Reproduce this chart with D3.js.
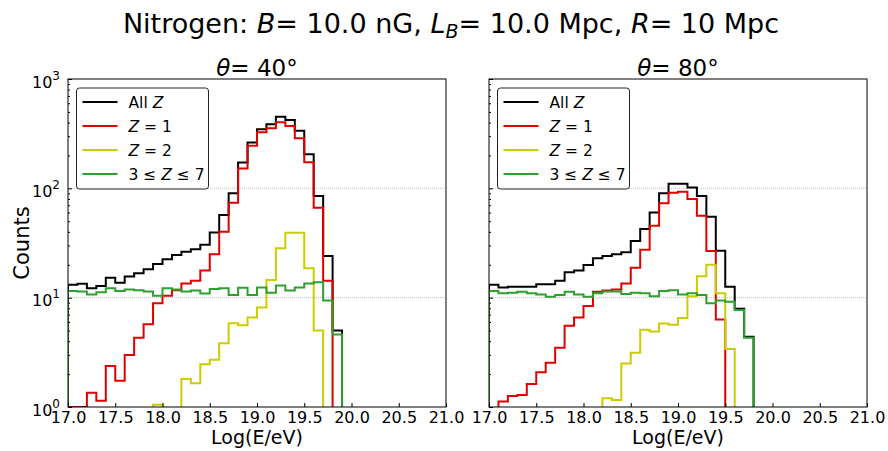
<!DOCTYPE html>
<html>
<head>
<meta charset="utf-8">
<script src="https://d3js.org/d3.v7.min.js"></script>
<style>
  body { margin: 0; background: #fff; }
  svg { font-family: "DejaVu Sans", sans-serif; }
</style>
</head>
<body>
<svg id="chart" width="888" height="451"></svg>
<script>
// histogram bins: 0.1 wide, 17.0 .. 21.0
var binLo = 17.0, binW = 0.1, nBins = 40;
var xTicks = [17.0, 17.5, 18.0, 18.5, 19.0, 19.5, 20.0, 20.5, 21.0];
var yTicks = [1, 10, 100, 1000];
var seriesNames = ["All Z", "Z = 1", "Z = 2", "3 ≤ Z ≤ 7"];
var seriesColors = ["#000000", "#e00000", "#cccc00", "#2f9f2f"];

// theta = 40 deg
var allZ40 = [13.1, 13.4, 12.2, 12.8, 15.2, 13.7, 15.6, 16.7, 18.2, 20.3,
              22.4, 24.6, 26.3, 27.7, 30.5, 39.5, 57, 90, 172, 262,
              347, 385, 452, 422, 337, 205, 85, 24.1, 5.0, 0,
              0, 0, 0, 0, 0, 0, 0, 0, 0, 0];
var z1_40 = [1, 1, 1.35, 1.14, 2.37, 1.74, 2.99, 4.3, 5.7, 8.9,
             10.4, 11.7, 13.5, 14.3, 17.7, 25, 40, 74, 152, 245,
             325, 354, 402, 372, 287, 173, 66.5, 14.3, 0, 0,
             0, 0, 0, 0, 0, 0, 0, 0, 0, 0];
var z2_40 = [0, 0, 0, 0, 0, 0, 0, 0, 0, 1.05,
             0, 0, 1.8, 1.65, 2.46, 2.7, 3.83, 5.83, 5.6, 6.6,
             8.15, 14.5, 28.3, 39.3, 39.3, 18.6, 5.0, 0, 0, 0,
             0, 0, 0, 0, 0, 0, 0, 0, 0, 0];
var z37_40 = [11.5, 11.4, 10.7, 11.2, 12.2, 11.5, 11.9, 11.7, 11.4, 10.4,
              12.2, 11.9, 11.4, 11.6, 10.9, 12.0, 12.2, 10.6, 12.3, 10.6,
              12.4, 11.1, 12.9, 11.6, 12.4, 13.5, 13.8, 9.4, 4.6, 0,
              0, 0, 0, 0, 0, 0, 0, 0, 0, 0];

// theta = 80 deg
var allZ80 = [13.1, 12.4, 12.6, 12.6, 12.6, 13.3, 13.3, 14.3, 17.1, 17.7,
              19.9, 22.9, 24.0, 24.9, 26.0, 33, 42.5, 60, 90, 110,
              110, 102, 85, 55, 26.9, 12.6, 7.9, 4.4, 0, 0,
              0, 0, 0, 0, 0, 0, 0, 0, 0, 0];
var z1_80 = [0, 1.12, 1.26, 1.29, 1.62, 2.08, 2.54, 3.48, 5.54, 6.6,
             8.4, 11.3, 11.6, 11.9, 13.5, 18.8, 27.5, 45.5, 73, 91,
             93, 80, 56, 26.7, 6.3, 0, 0, 0, 0, 0,
             0, 0, 0, 0, 0, 0, 0, 0, 0, 0];
var z2_80 = [0, 0, 0, 0, 0, 0, 0, 0, 0, 0,
             0, 0, 1.2, 1.16, 2.5, 3.14, 5.1, 4.9, 5.8, 5.65,
             6.5, 10.3, 15.7, 20, 11, 3.4, 0, 0, 0, 0,
             0, 0, 0, 0, 0, 0, 0, 0, 0, 0];
var z37_80 = [11.5, 11.0, 11.1, 11.3, 11.0, 10.7, 10.2, 10.6, 11.3, 10.7,
              10.2, 11.0, 11.4, 11.4, 10.8, 11.1, 11.0, 10.3, 11.5, 11.7,
              10.7, 11.0, 10.6, 8.9, 9.4, 9.2, 7.7, 4.3, 0, 0,
              0, 0, 0, 0, 0, 0, 0, 0, 0, 0];

var panels = [
  { angle: "40", x0: 68, series: [allZ40, z1_40, z2_40, z37_40], yLabels: true },
  { angle: "80", x0: 489, series: [allZ80, z1_80, z2_80, z37_80], yLabels: false }
];

var pw = 378, yTop = 79, yBot = 407;
var svg = d3.select("#chart");

// suptitle
var title = svg.append("text")
    .attr("x", 451).attr("y", 33)
    .attr("text-anchor", "middle")
    .attr("font-size", 27);
title.append("tspan").text("Nitrogen: ");
title.append("tspan").attr("font-style", "italic").text("B");
title.append("tspan").text("= 10.0 nG, ");
title.append("tspan").attr("font-style", "italic").text("L");
title.append("tspan").attr("font-style", "italic").attr("font-size", 19).attr("dy", 5).text("B");
title.append("tspan").attr("dy", -5).text("= 10.0 Mpc, ");
title.append("tspan").attr("font-style", "italic").text("R");
title.append("tspan").text("= 10 Mpc");

svg.append("text")
    .attr("transform", "translate(29," + ((yTop + yBot) / 2) + ") rotate(-90)")
    .attr("text-anchor", "middle")
    .attr("font-size", 21)
    .text("Counts");

var edges = d3.range(nBins + 1).map(function(i) { return +(binLo + i * binW).toFixed(1); });

panels.forEach(function(p, pi) {
  var x = d3.scaleLinear().domain([17, 21]).range([p.x0, p.x0 + pw]);
  var y = d3.scaleLog().domain([1, 1000]).range([yBot, yTop]);
  var g = svg.append("g");

  g.append("clipPath").attr("id", "clip" + pi)
    .append("rect").attr("x", p.x0).attr("y", yTop).attr("width", pw).attr("height", yBot - yTop);

  // grid at major decades
  g.selectAll(".grid").data([10, 100]).enter().append("line")
    .attr("x1", p.x0).attr("x2", p.x0 + pw)
    .attr("y1", function(d) { return y(d); }).attr("y2", function(d) { return y(d); })
    .attr("stroke", "#b0b0b0").attr("stroke-width", 0.8).attr("stroke-dasharray", "1,1");

  // step histograms
  var line = d3.line().curve(d3.curveStepAfter)
    .x(function(d) { return x(d[0]); })
    .y(function(d) { return y(Math.max(d[1], 1)); });

  var hist = g.append("g").attr("clip-path", "url(#clip" + pi + ")");
  p.series.forEach(function(vals, si) {
    var segs = [], cur = null;
    vals.forEach(function(v, i) {
      if (v > 0) {
        if (!cur) { cur = [[edges[i], 1]]; segs.push(cur); }
        cur.push([edges[i], v]);
      } else if (cur) { cur.push([edges[i], 1]); cur = null; }
    });
    if (cur) cur.push([edges[nBins], 1]);
    segs.forEach(function(s) {
      hist.append("path").attr("d", line(s))
        .attr("fill", "none").attr("stroke", seriesColors[si]).attr("stroke-width", 2);
    });
  });

  // axes
  var xAxis = d3.axisBottom(x).tickValues(xTicks).tickSizeInner(-4).tickSizeOuter(0)
    .tickPadding(5).tickFormat(d3.format(".1f"));
  var xg = g.append("g").attr("transform", "translate(0," + yBot + ")").call(xAxis);
  xg.select(".domain").remove();
  xg.selectAll("text").attr("font-size", 16).attr("fill", "#000").attr("font-family", "DejaVu Sans");

  var minors = [];
  [1, 10, 100].forEach(function(dec) { for (var k = 2; k <= 9; k++) minors.push(dec * k); });
  var ymg = g.append("g").attr("transform", "translate(" + p.x0 + ",0)")
    .call(d3.axisLeft(y).tickValues(minors).tickSizeInner(-2).tickSizeOuter(0).tickFormat(""));
  ymg.select(".domain").remove();

  var yAxis = d3.axisLeft(y).tickValues(yTicks).tickSizeInner(-4).tickSizeOuter(0).tickPadding(8)
    .tickFormat(function() { return ""; });
  var yg = g.append("g").attr("transform", "translate(" + p.x0 + ",0)").call(yAxis);
  yg.select(".domain").remove();
  if (p.yLabels) {
    yg.selectAll(".tick text").each(function(d) {
      var t = d3.select(this).attr("font-size", 16).attr("fill", "#000")
        .attr("font-family", "DejaVu Sans").attr("dy", "0.5em");
      t.append("tspan").text("10");
      t.append("tspan").attr("font-size", 12).attr("dy", -8).text(Math.round(Math.log10(d)));
    });
  } else {
    yg.selectAll(".tick text").remove();
  }

  // frame
  g.append("rect").attr("x", p.x0).attr("y", yTop).attr("width", pw).attr("height", yBot - yTop)
    .attr("fill", "none").attr("stroke", "#000").attr("stroke-width", 1);

  // panel title
  var pt = g.append("text").attr("x", p.x0 + pw / 2).attr("y", 76)
    .attr("text-anchor", "middle").attr("font-size", 23);
  pt.append("tspan").attr("font-style", "italic").text("θ");
  pt.append("tspan").text("= " + p.angle + "°");

  // x label
  g.append("text").attr("x", p.x0 + pw / 2).attr("y", 444)
    .attr("text-anchor", "middle").attr("font-size", 19).text("Log(E/eV)");

  // legend
  var lx = p.x0 + 8.5, ly = 88;
  g.append("rect").attr("x", lx).attr("y", ly).attr("width", 132).attr("height", 101)
    .attr("rx", 3).attr("fill", "#fff").attr("stroke", "#222").attr("stroke-width", 1);
  seriesNames.forEach(function(name, si) {
    var ry = ly + 14 + si * 24;
    g.append("line").attr("x1", lx + 6).attr("x2", lx + 41).attr("y1", ry).attr("y2", ry)
      .attr("stroke", seriesColors[si]).attr("stroke-width", 2);
    var t = g.append("text").attr("x", lx + 52).attr("y", ry + 5.5).attr("font-size", 15.5);
    name.split(/(Z)/).forEach(function(part) {
      if (part === "") return;
      t.append("tspan").attr("font-style", part === "Z" ? "italic" : null).text(part);
    });
  });
});
</script>
</body>
</html>
